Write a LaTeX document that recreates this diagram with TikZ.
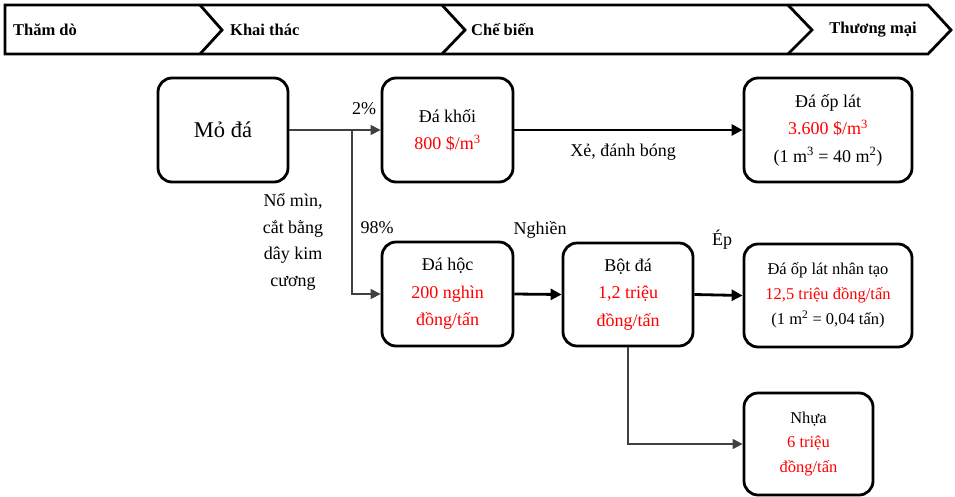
\documentclass[tikz,border=0pt]{standalone}
\usepackage{fontspec}
\setmainfont{Liberation Serif}
\usetikzlibrary{arrows.meta}
\begin{document}
\begin{tikzpicture}[x=1pt,y=-1pt,
  box/.style={draw, line width=2.8pt, rounded corners=14pt, inner sep=0pt, align=center,
    font=\fontsize{18}{27.5}\selectfont},
  lbl/.style={inner sep=0pt, align=center, font=\fontsize{18}{26.5}\selectfont},
  stage/.style={inner sep=0pt, font=\fontsize{16.5}{20}\selectfont\bfseries},
  chev/.style={line width=2.8pt, line join=miter},
  thinarrow/.style={draw=black!75, line width=1.3pt, -{Triangle[length=10pt,width=10pt]}},
  thickarrow/.style={draw=black, line width=2.8pt, -{Triangle[length=11pt,width=11pt]}}
]
\useasboundingbox (0,0) rectangle (955,496);
\fill[white] (0,0) rectangle (955,496);

% stage bar
\draw[chev] (5,5) -- (928,5) -- (951,30) -- (928,54) -- (5,54) -- cycle;
\draw[chev] (200,5) -- (222,30) -- (200,54);
\draw[chev] (442,5) -- (465,30) -- (442,54);
\draw[chev] (788,5) -- (812,30) -- (788,54);
\node[stage, anchor=west] (s1) at (13,30) {Thăm dò};
\node[stage, anchor=west] (s2) at (230,30) {Khai thác};
\node[stage, anchor=west] (s3) at (471,30) {Chế biến};
\node[stage] (s4) at (873,30) {Thương mại};

% boxes
\node[box, minimum width=130pt, minimum height=104pt, font=\fontsize{22.5}{27}\selectfont] (mo) at (223,130) {Mỏ đá};
\node[box, minimum width=131pt, minimum height=104pt] (khoi) at (447.5,130)
  {Đá khối\\\textcolor{red}{800 \$/m\textsuperscript{3}}};
\node[box, minimum width=168pt, minimum height=104pt] (opl) at (828,130)
  {Đá ốp lát\\\textcolor{red}{3.600 \$/m\textsuperscript{3}}\\(1 m\textsuperscript{3} = 40 m\textsuperscript{2})};
\node[box, minimum width=131pt, minimum height=104pt] (hoc) at (447.5,294)
  {Đá hộc\\\textcolor{red}{200 nghìn}\\\textcolor{red}{đồng/tấn}};
\node[box, minimum width=130pt, minimum height=103pt] (bot) at (628,294.5)
  {Bột đá\\\textcolor{red}{1,2 triệu}\\\textcolor{red}{đồng/tấn}};
\node[box, minimum width=168pt, minimum height=103pt, font=\fontsize{16.5}{25}\selectfont] (nt) at (828,295.5)
  {Đá ốp lát nhân tạo\\\textcolor{red}{12,5 triệu đồng/tấn}\\(1 m\textsuperscript{2} = 0,04 tấn)};
\node[box, minimum width=129pt, minimum height=102pt, font=\fontsize{16.5}{24.5}\selectfont] (nhua) at (808.5,444)
  {Nhựa\\\textcolor{red}{6 triệu}\\\textcolor{red}{đồng/tấn}};

% connectors
\coordinate (j) at (352,130);
\draw[thinarrow] (mo.east) -- (khoi.west);
\draw[thinarrow] (j) |- (hoc.west);
\draw[thickarrow] (khoi.east) -- (opl.west);
\draw[thickarrow] (hoc.east) -- (bot.west);
\draw[thickarrow] (bot.east) -- (nt.west);
\draw[thinarrow] (bot.south) |- (nhua.west);

% labels
\node[lbl] (p2) at (364,109) {2\%};
\node[lbl] (p98) at (377,228) {98\%};
\node[lbl] (nm) at (293,242) {Nổ mìn,\\cắt bằng\\dây kim\\cương};
\node[lbl] (xe) at (623,152) {Xẻ, đánh bóng};
\node[lbl] (ng) at (540,230) {Nghiền};
\node[lbl] (ep) at (722,240) {Ép};
\end{tikzpicture}
\end{document}
